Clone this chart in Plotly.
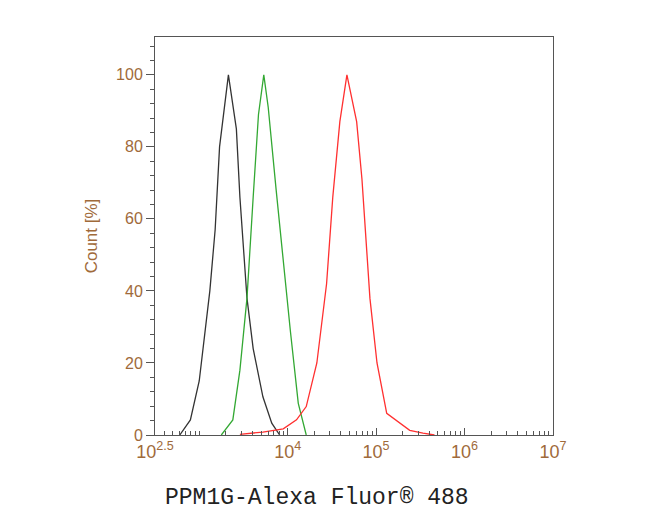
import plotly.graph_objects as go

# histogram outlines (log10 intensity, count %)
black_x = [2.78, 2.90, 3.00, 3.12, 3.18, 3.23, 3.33, 3.42, 3.46, 3.54, 3.61, 3.72, 3.82, 3.91]
black_y = [0, 4.2, 15, 40, 57, 80, 100, 85, 66, 38, 24, 10.6, 3.3, 0]

green_x = [3.25, 3.38, 3.46, 3.54, 3.61, 3.67, 3.73, 3.78, 3.87, 3.95, 4.03, 4.12, 4.21]
green_y = [0, 4.2, 18, 38, 66, 89, 100, 91, 68, 48, 29, 8.8, 0]

red_x = [3.46, 3.72, 3.95, 4.10, 4.21, 4.33, 4.44, 4.51, 4.59, 4.67, 4.78, 4.84, 4.93, 5.01,
         5.12, 5.25, 5.38, 5.53, 5.66]
red_y = [0.2, 0.8, 1.7, 4.2, 7.9, 20, 42, 66, 87, 100, 87, 71, 38, 20, 6, 3.7, 1.3, 0.5, 0]

xtick_vals = [10 ** 2.5, 1e4, 1e5, 1e6, 1e7]
xtick_text = ["10<sup>2.5</sup>", "10<sup>4</sup>", "10<sup>5</sup>", "10<sup>6</sup>", "10<sup>7</sup>"]

tick_color = "#a06a3a"

fig = go.Figure()
for xs, ys, col in [(black_x, black_y, "#333333"), (green_x, green_y, "#33a833"), (red_x, red_y, "#ff3030")]:
    fig.add_trace(go.Scatter(x=[10 ** v for v in xs], y=ys, mode="lines",
                             line=dict(color=col, width=1.3), showlegend=False))

fig.update_layout(
    width=650, height=520,
    margin=dict(l=147, r=105, t=29, b=93),
    plot_bgcolor="white", paper_bgcolor="white",
    font=dict(family="Liberation Sans, Arial", color=tick_color, size=14),
)
fig.update_xaxes(
    type="log", range=[2.5, 7],
    tickvals=xtick_vals, ticktext=xtick_text,
    ticks="inside", ticklen=7, tickcolor="#555",
    minor=dict(ticks="inside", ticklen=4, tickcolor="#555", dtick="D1"),
    showline=True, linecolor="#555", mirror=True, showgrid=False, zeroline=False,
    tickfont=dict(size=18, color=tick_color),
)
fig.update_yaxes(
    range=[0, 110.5], tickvals=[0, 20, 40, 60, 80, 100],
    ticks="outside", ticklen=8, tickcolor="#555",
    minor=dict(ticks="outside", ticklen=4, tickcolor="#555", dtick=4),
    showline=True, linecolor="#555", mirror=True, showgrid=False, zeroline=False,
    tickfont=dict(size=16, color=tick_color),
    title=dict(text="Count [%]", font=dict(size=17, color=tick_color), standoff=14),
)
fig.add_annotation(
    text="PPM1G-Alexa Fluor® 488", xref="paper", yref="paper", x=0.02, y=-0.12,
    xanchor="left", yanchor="top", showarrow=False,
    font=dict(family="Liberation Mono, DejaVu Sans Mono", size=23, color="#222"),
)

fig.write_html("out.html")
